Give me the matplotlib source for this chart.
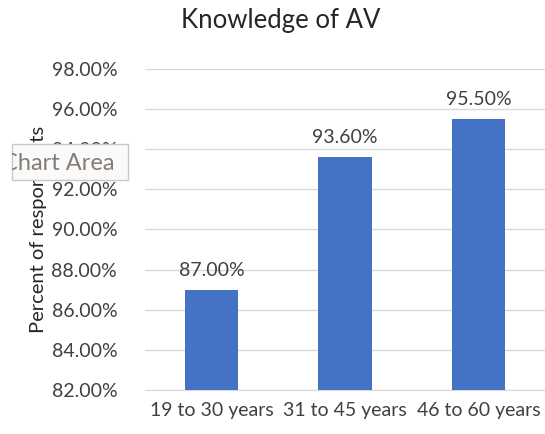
import matplotlib.pyplot as plt
import matplotlib.patches as mpatches
import numpy as np
from matplotlib.ticker import FuncFormatter

plt.rcParams['font.family'] = ['Lato', 'DejaVu Sans']

groups = ['19 to 30 years', '31 to 45 years', '46 to 60 years']
pct = [87.00, 93.60, 95.50]
yticks = [82, 84, 86, 88, 90, 92, 94, 96, 98]

fig = plt.figure(figsize=(5.45, 4.34), dpi=100)
ax = fig.add_axes([0.266, 0.1014, 0.734, 0.7396])

x = np.arange(len(groups))
ax.bar(x, pct, width=0.4, color='#4472C4', zorder=3)
for xi, v in zip(x, pct):
    ax.text(xi, v + 0.55, '{:.2f}%'.format(v), ha='center', va='bottom',
            fontsize=14, color='#404040')

ax.set_ylim(82, 98)
ax.set_xlim(-0.5, 2.5)
ax.set_yticks(yticks)
ax.yaxis.set_major_formatter(FuncFormatter(lambda v, p: '{:.2f}%'.format(v)))
ax.set_xticks(x)
ax.set_xticklabels(groups)
ax.tick_params(length=0, labelsize=14, labelcolor='#404040', pad=9)
ax.tick_params(axis='y', pad=20)
ax.grid(axis='y', color='#d9d9d9', linewidth=1, zorder=0)
for s in ['top', 'right', 'left']:
    ax.spines[s].set_visible(False)
ax.spines['bottom'].set_color('#d9d9d9')

ax.set_ylabel('Percent of respondents', fontsize=14.5, color='#262626')
ax.yaxis.set_label_coords(-0.245, 0.5, transform=ax.transAxes)
fig.text(0.515, 0.953, 'Knowledge of AV', ha='center', va='center',
         fontsize=18.5, color='#262626')

# "Chart Area" tooltip overlay
box = mpatches.Rectangle((12 / 545, 1 - 180 / 434), 116 / 545, 36 / 434,
                         transform=fig.transFigure, facecolor='#fafafa',
                         edgecolor='#c8c8c8', linewidth=1, zorder=10)
fig.patches.append(box)
t = fig.text(2 / 545, 1 - 163 / 434, 'Chart Area', ha='left', va='center',
             fontsize=17, color='#857c72', zorder=11)
t.set_clip_path(box)

fig.savefig('out.png', dpi=100)
